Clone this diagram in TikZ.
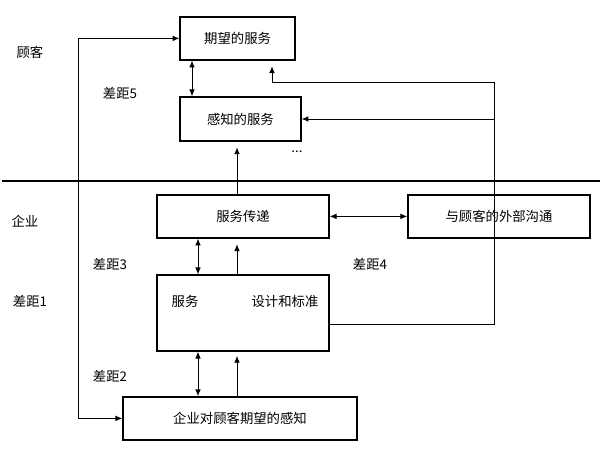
\documentclass[tikz,border=0pt]{standalone}
\usepackage{fontspec}
\setmainfont{Noto Sans CJK SC}
\usepackage{tikz}
\usetikzlibrary{arrows.meta, positioning, calc}
\usepackage{xcolor}
\tikzstyle{box} = [rectangle, draw=black, line width=1pt, text centered, inner sep=0pt, font=\fontsize{9.5}{11}\selectfont]
\tikzstyle{lbl} = [font=\fontsize{9.5}{11}\selectfont, inner sep=1pt]
\tikzstyle{line} = [line width=0.6pt]
\tikzstyle{arrow} = [line width=0.6pt,-{Latex[length=1.7mm,width=1.4mm]}]
\tikzstyle{dblarrow} = [line width=0.6pt,{Latex[length=1.7mm,width=1.4mm]}-{Latex[length=1.7mm,width=1.4mm]}]

\begin{document}
\begin{tikzpicture}
\useasboundingbox (0,0) rectangle (15,11.25);

% Customer side
\node[box, minimum width=2.875cm, minimum height=1.075cm] (expect) at (5.94,10.29) {期望的服务};
\node[box, minimum width=3.025cm, minimum height=1.1cm] (perceived) at (6.01,8.275) {感知的服务};
\node[lbl] (dots) at (7.425,7.45) {...};

% Separator
\coordinate (sepl) at (0.05,6.725);
\coordinate (sepr) at (15,6.725);
\draw[line width=1.2pt] (sepl) -- (sepr);

% Firm side
\node[box, minimum width=4.3cm, minimum height=1.075cm] (delivery) at (6.075,5.84) {服务传递};
\node[box, minimum width=4.55cm, minimum height=1.075cm] (extcomm) at (12.475,5.84) {与顾客的外部沟通};
\node[box, minimum width=4.3cm, minimum height=1.9cm] (design) at (6.075,3.425) {};
\node[lbl] (designa) at (4.625,3.725) {服务};
\node[lbl] (designb) at (7.125,3.725) {设计和标准};
\node[box, minimum width=5.85cm, minimum height=1.075cm] (firmview) at (6.0,0.79) {企业对顾客期望的感知};

% Labels
\node[lbl] (customer) at (0.75,9.95) {顾客};
\node[lbl] (firm) at (0.625,5.725) {企业};
\node[lbl] (gapfive) at (3.0,8.925) {差距5};
\node[lbl] (gapthree) at (2.75,4.65) {差距3};
\node[lbl] (gapfour) at (9.25,4.65) {差距4};
\node[lbl] (gapone) at (0.75,3.725) {差距1};
\node[lbl] (gaptwo) at (2.75,1.85) {差距2};

% Columns for vertical connectors
\coordinate (colA) at (4.8,0);
\coordinate (colB) at (4.95,0);
\coordinate (colC) at (5.925,0);
\coordinate (colL) at (1.95,0);
\coordinate (colR) at (12.35,0);
\coordinate (expin) at (6.8,9.2);
\coordinate (desout) at (8.225,3.15);

% Gap 5
\draw[dblarrow] (expect.south -| colA) -- (perceived.north -| colA);
\draw[arrow] (delivery.north -| colC) -- ([yshift=-4pt]perceived.south -| colC);

% Gap 3
\draw[dblarrow] (delivery.south -| colB) -- (design.north -| colB);
\draw[arrow] (design.north -| colC) -- ([yshift=-4pt]delivery.south -| colC);

% Gap 2
\draw[dblarrow] (design.south -| colB) -- (firmview.north -| colB);
\draw[arrow] (firmview.north -| colC) -- ([yshift=-3pt]design.south -| colC);

% Gap 1
\draw[dblarrow] (expect.west) -- (expect.west -| colL) -- (firmview.west -| colL) -- (firmview.west);

% Gap 4
\draw[dblarrow] (delivery.east) -- (extcomm.west);
\draw[line] (desout) -- (desout -| colR) -- (expin -| colR) -- (expin);
\draw[arrow] (expin) -- ([yshift=-4pt]expect.south -| expin);
\draw[arrow] (perceived.east -| colR) -- (perceived.east);

\end{tikzpicture}
\end{document}
